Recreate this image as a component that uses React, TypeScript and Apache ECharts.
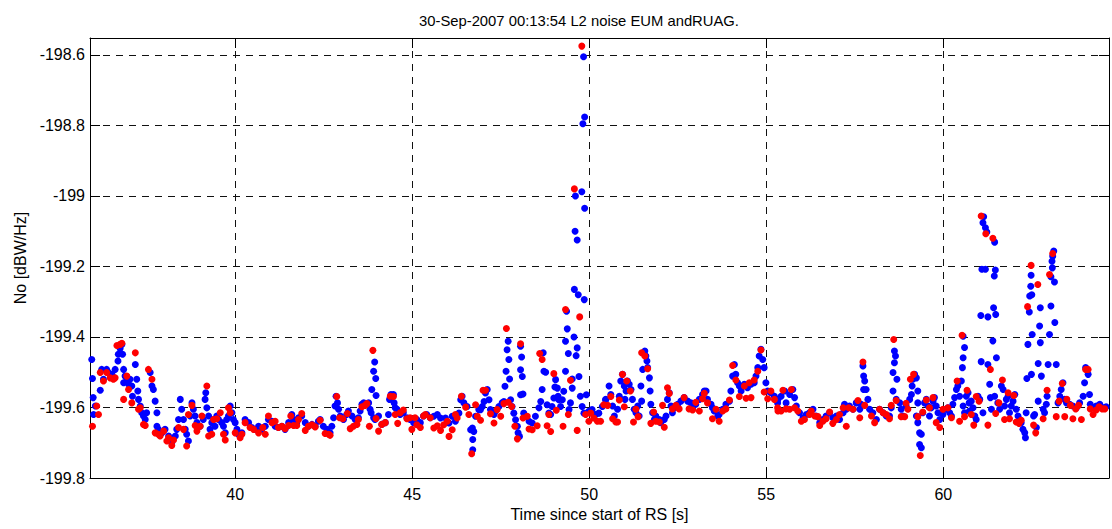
import React, { useEffect, useRef } from "react";
import * as echarts from "echarts";

const titleText = "30-Sep-2007 00:13:54 L2 noise EUM andRUAG.";
const xName = "Time since start of RS [s]";
const yName = "No [dBW/Hz]";
const xTicks = [40, 45, 50, 55, 60];
const yTicks = [-199.8, -199.6, -199.4, -199.2, -199, -198.8, -198.6];
const xRange = [35.9, 64.68];
const yRange = [-199.8, -198.552];

// EUM (blue) samples: [time s, noise dBW/Hz]
const blueSeg1: [number, number][] = [
  [35.95, -199.464], [35.97, -199.518], [35.99, -199.572], [36.0, -199.62], [36.05, -199.596],
  [36.19, -199.551], [36.23, -199.492], [36.28, -199.52], [36.37, -199.492], [36.42, -199.501],
  [36.52, -199.506], [36.61, -199.492], [36.69, -199.468], [36.7, -199.449], [36.75, -199.433],
  [36.8, -199.421], [36.82, -199.449], [36.85, -199.492], [36.85, -199.53], [36.89, -199.511],
  [36.94, -199.525], [36.99, -199.534], [37.03, -199.52], [37.08, -199.539], [37.1, -199.568],
  [37.18, -199.478], [37.22, -199.52], [37.25, -199.553], [37.27, -199.577], [37.32, -199.596],
  [37.36, -199.615], [37.41, -199.624], [37.46, -199.634], [37.5, -199.615], [37.6, -199.501],
  [37.65, -199.539], [37.69, -199.549], [37.74, -199.582], [37.79, -199.615], [37.79, -199.653],
  [37.83, -199.662], [37.93, -199.672], [38.02, -199.662], [38.12, -199.681], [38.21, -199.7],
  [38.31, -199.681], [38.35, -199.662], [38.4, -199.634], [38.45, -199.577], [38.49, -199.605],
  [38.54, -199.634], [38.59, -199.662], [38.63, -199.676], [38.68, -199.695], [38.73, -199.624],
  [38.78, -199.587], [38.82, -199.605], [38.87, -199.624], [38.92, -199.643], [39.01, -199.653],
  [39.1, -199.634], [39.15, -199.577], [39.17, -199.558], [39.2, -199.601], [39.25, -199.624],
  [39.29, -199.662], [39.34, -199.643], [39.39, -199.634], [39.43, -199.653], [39.48, -199.624],
  [39.53, -199.634], [39.62, -199.643], [39.67, -199.653], [39.72, -199.672], [39.76, -199.634],
  [39.81, -199.624], [39.86, -199.596], [39.91, -199.615], [39.95, -199.634], [40.0, -199.643],
  [40.05, -199.662], [40.09, -199.676], [40.19, -199.672], [40.28, -199.634], [40.38, -199.643],
  [40.47, -199.657], [40.57, -199.662], [40.66, -199.653],
];
const blueSeg2: [number, number][] = [
  [40.75, -199.662], [40.85, -199.653], [40.94, -199.634], [41.04, -199.639], [41.13, -199.653],
  [41.22, -199.657], [41.32, -199.653], [41.41, -199.662], [41.51, -199.643], [41.6, -199.62],
  [41.65, -199.634], [41.74, -199.643], [41.79, -199.629], [41.88, -199.624], [41.98, -199.643],
  [42.07, -199.653], [42.17, -199.648], [42.26, -199.653], [42.35, -199.639], [42.4, -199.634],
  [42.49, -199.653], [42.59, -199.662], [42.68, -199.672], [42.73, -199.653], [42.78, -199.629],
  [42.82, -199.596], [42.85, -199.568], [42.89, -199.587], [42.92, -199.605], [42.97, -199.624],
  [43.06, -199.634], [43.15, -199.62], [43.2, -199.61], [43.3, -199.624], [43.39, -199.634],
  [43.48, -199.629], [43.53, -199.61], [43.58, -199.591], [43.63, -199.587], [43.72, -199.591],
  [43.77, -199.587], [43.81, -199.605], [43.84, -199.615], [43.86, -199.549], [43.91, -199.497],
  [43.94, -199.471], [43.97, -199.518], [43.98, -199.566], [43.91, -199.629], [43.95, -199.634],
  [44.05, -199.624], [44.14, -199.648], [44.24, -199.643], [44.33, -199.62], [44.36, -199.577],
  [44.4, -199.563], [44.43, -199.568], [44.47, -199.563], [44.49, -199.587], [44.52, -199.601],
  [44.57, -199.605], [44.66, -199.62], [44.75, -199.615], [44.85, -199.629], [44.94, -199.634],
  [45.04, -199.643], [45.13, -199.634], [45.23, -199.643], [45.32, -199.624], [45.41, -199.62],
  [45.51, -199.629],
];
const blueSeg3: [number, number][] = [
  [45.61, -199.625], [45.71, -199.62], [45.8, -199.63], [45.94, -199.63], [46.04, -199.644],
  [46.13, -199.625], [46.22, -199.639], [46.32, -199.616], [46.37, -199.578], [46.41, -199.568],
  [46.46, -199.587], [46.55, -199.597], [46.65, -199.663], [46.7, -199.658], [46.71, -199.691],
  [46.71, -199.72], [46.74, -199.668], [46.79, -199.625], [46.88, -199.606], [46.93, -199.606],
  [46.98, -199.597], [47.03, -199.583], [47.07, -199.559], [47.12, -199.549], [47.17, -199.578],
  [47.21, -199.606], [47.26, -199.616], [47.31, -199.62], [47.35, -199.611], [47.45, -199.597],
  [47.54, -199.587], [47.59, -199.583], [47.62, -199.54], [47.65, -199.497], [47.68, -199.436],
  [47.71, -199.412], [47.73, -199.464], [47.75, -199.519], [47.78, -199.578], [47.82, -199.597],
  [47.87, -199.616], [47.92, -199.635], [47.97, -199.653], [47.99, -199.672], [48.03, -199.682],
  [48.06, -199.426], [48.09, -199.457], [48.06, -199.493], [48.11, -199.512], [48.06, -199.564],
  [48.13, -199.562], [48.15, -199.616], [48.2, -199.625], [48.3, -199.639], [48.39, -199.644],
  [48.48, -199.625], [48.58, -199.601], [48.63, -199.583], [48.67, -199.549], [48.72, -199.497],
  [48.7, -199.445], [48.77, -199.5], [48.81, -199.592], [48.86, -199.616], [48.91, -199.62],
  [48.95, -199.597], [49.0, -199.573], [49.05, -199.521], [49.03, -199.542], [49.1, -199.545],
  [49.12, -199.568], [49.14, -199.578], [49.19, -199.597], [49.24, -199.578], [49.28, -199.554],
  [49.33, -199.497], [49.33, -199.412], [49.36, -199.327], [49.38, -199.377], [49.41, -199.447],
  [49.43, -199.606], [49.47, -199.587], [49.52, -199.545], [49.52, -199.519], [49.57, -199.4],
  [49.63, -199.453], [49.66, -199.431], [49.71, -199.512], [49.75, -199.568], [49.8, -199.597],
  [49.85, -199.616], [49.92, -199.564], [49.99, -199.611], [50.08, -199.606], [50.18, -199.62],
  [50.27, -199.616], [50.37, -199.597],
  [49.84, -198.605], [49.87, -198.776], [49.82, -198.795], [49.61, -199.0], [49.79, -198.988],
  [49.87, -199.035], [49.6, -199.1], [49.66, -199.125], [49.58, -199.265], [49.69, -199.28],
  [49.86, -199.294],
];
const blueSeg4: [number, number][] = [
  [50.46, -199.578], [50.47, -199.577], [50.56, -199.539], [50.61, -199.563], [50.66, -199.596],
  [50.71, -199.624], [50.8, -199.605], [50.85, -199.568], [50.89, -199.525], [50.94, -199.506],
  [50.99, -199.539], [51.01, -199.577], [51.04, -199.553], [51.08, -199.525], [51.13, -199.534],
  [51.18, -199.549], [51.22, -199.577], [51.27, -199.605], [51.32, -199.615], [51.37, -199.596],
  [51.41, -199.624], [51.46, -199.539], [51.48, -199.582], [51.51, -199.492], [51.54, -199.445],
  [51.57, -199.44], [51.6, -199.454], [51.63, -199.468], [51.65, -199.487], [51.7, -199.516],
  [51.72, -199.553], [51.74, -199.591], [51.79, -199.615], [51.84, -199.634], [51.88, -199.624],
  [51.98, -199.634], [52.02, -199.643], [52.12, -199.634], [52.17, -199.624], [52.21, -199.577],
  [52.26, -199.558], [52.31, -199.596], [52.35, -199.615], [52.4, -199.601], [52.5, -199.591],
  [52.59, -199.582], [52.68, -199.572], [52.78, -199.582], [52.87, -199.587], [52.92, -199.601],
  [53.01, -199.591], [53.11, -199.577], [53.2, -199.563], [53.25, -199.553], [53.3, -199.553],
  [53.34, -199.577], [53.44, -199.591], [53.48, -199.601], [53.53, -199.61], [53.63, -199.624],
  [53.67, -199.62], [53.77, -199.605], [53.86, -199.591], [53.96, -199.582], [54.0, -199.553],
  [54.05, -199.511], [54.1, -199.478], [54.14, -199.506], [54.19, -199.53], [54.24, -199.539],
  [54.29, -199.553], [54.38, -199.534], [54.47, -199.544], [54.57, -199.534], [54.66, -199.53],
  [54.71, -199.511], [54.76, -199.487], [54.8, -199.454], [54.85, -199.435], [54.9, -199.464],
  [54.94, -199.487], [54.99, -199.53], [55.04, -199.553], [55.13, -199.558], [55.23, -199.568],
];
const blueSeg5: [number, number][] = [
  [55.32, -199.587], [55.33, -199.577], [55.42, -199.568], [55.52, -199.553], [55.56, -199.587],
  [55.66, -199.563], [55.75, -199.549], [55.8, -199.572], [55.85, -199.596], [55.94, -199.615],
  [56.04, -199.629], [56.13, -199.62], [56.22, -199.615], [56.32, -199.605], [56.41, -199.624],
  [56.51, -199.643], [56.6, -199.634], [56.69, -199.624], [56.79, -199.615], [56.88, -199.629],
  [56.98, -199.624], [57.07, -199.634], [57.17, -199.615], [57.21, -199.591], [57.26, -199.605],
  [57.35, -199.596], [57.45, -199.605], [57.54, -199.587], [57.64, -199.605], [57.68, -199.591],
  [57.73, -199.482], [57.75, -199.511], [57.78, -199.525], [57.75, -199.549], [57.82, -199.549],
  [57.87, -199.577], [57.92, -199.605], [58.01, -199.615], [58.11, -199.634], [58.2, -199.605],
  [58.3, -199.615], [58.39, -199.624], [58.48, -199.624], [58.53, -199.601], [58.58, -199.553],
  [58.58, -199.501], [58.62, -199.473], [58.65, -199.454], [58.62, -199.44], [58.69, -199.52],
  [58.67, -199.577], [58.77, -199.587], [58.81, -199.605], [58.86, -199.624], [58.95, -199.596],
  [59.05, -199.577], [59.1, -199.563], [59.12, -199.539], [59.14, -199.52], [59.19, -199.506],
  [59.24, -199.516], [59.28, -199.553], [59.28, -199.587], [59.24, -199.624], [59.28, -199.643],
  [59.33, -199.672], [59.38, -199.676], [59.33, -199.705], [59.38, -199.714], [59.42, -199.615],
  [59.47, -199.587], [59.52, -199.577], [59.57, -199.596], [59.61, -199.624], [59.66, -199.601],
  [59.71, -199.582], [59.75, -199.572], [59.8, -199.596], [59.85, -199.615], [59.9, -199.634],
  [59.99, -199.62], [60.08, -199.605],
];
const blueSeg6: [number, number][] = [
  [60.13, -199.601], [60.18, -199.615], [60.23, -199.624], [60.27, -199.591], [60.32, -199.572],
  [60.37, -199.549], [60.41, -199.539], [60.46, -199.568], [60.51, -199.525], [60.54, -199.487],
  [60.56, -199.459], [60.6, -199.43], [60.56, -199.398], [60.56, -199.596], [60.6, -199.615],
  [60.65, -199.568], [60.7, -199.558], [60.73, -199.587], [60.74, -199.61], [60.79, -199.582],
  [60.84, -199.601], [60.89, -199.624], [60.93, -199.634], [60.98, -199.568], [61.03, -199.577],
  [61.07, -199.47], [61.12, -199.615], [61.26, -199.478], [61.31, -199.534], [61.33, -199.572],
  [61.36, -199.605], [61.4, -199.411], [61.45, -199.568], [61.5, -199.459], [61.54, -199.587],
  [61.59, -199.605], [61.64, -199.539], [61.69, -199.549], [61.73, -199.596], [61.78, -199.577],
  [61.83, -199.568], [61.87, -199.615], [61.92, -199.596], [61.97, -199.582], [62.02, -199.563],
  [62.06, -199.605], [62.11, -199.624], [62.16, -199.634], [62.2, -199.643], [62.25, -199.662],
  [62.3, -199.672], [62.32, -199.686], [62.34, -199.615], [62.36, -199.518], [62.39, -199.421],
  [62.49, -199.506], [62.51, -199.393], [62.55, -199.624], [62.58, -199.62], [62.63, -199.657],
  [62.68, -199.475], [62.68, -199.582], [62.72, -199.369], [62.74, -199.416], [62.77, -199.511],
  [62.82, -199.605], [62.86, -199.615], [62.91, -199.591], [62.93, -199.568], [62.96, -199.478],
  [63.0, -199.393], [63.15, -199.359], [63.19, -199.478], [63.24, -199.587], [63.29, -199.568],
  [63.33, -199.549], [63.38, -199.53], [63.43, -199.577], [63.48, -199.587], [63.57, -199.591],
  [63.66, -199.596], [63.76, -199.601], [63.85, -199.587], [63.95, -199.568], [63.99, -199.53],
  [64.02, -199.487], [64.09, -199.506], [64.13, -199.563], [64.15, -199.591], [64.23, -199.601],
  [64.32, -199.596], [64.42, -199.591], [64.51, -199.601], [64.6, -199.598],
  [61.14, -199.059], [61.12, -199.076], [61.19, -199.09], [61.23, -199.102], [61.45, -199.131],
  [61.09, -199.208], [61.19, -199.208], [61.47, -199.21], [61.44, -199.227], [61.42, -199.317],
  [61.06, -199.339], [61.26, -199.343], [61.48, -199.336], [63.12, -199.156], [63.09, -199.171],
  [63.07, -199.185], [63.08, -199.204], [63.04, -199.229], [63.14, -199.244], [63.04, -199.312],
  [62.74, -199.317], [62.48, -199.225], [62.47, -199.256], [62.44, -199.284], [62.5, -199.28],
  [62.43, -199.329],
];

// RUAG (red) samples: [time s, noise dBW/Hz]
const redSeg1: [number, number][] = [
  [35.97, -199.653], [36.09, -199.596], [36.14, -199.62], [36.19, -199.501], [36.28, -199.525],
  [36.37, -199.501], [36.47, -199.516], [36.56, -199.52], [36.61, -199.516], [36.66, -199.424],
  [36.75, -199.421], [36.8, -199.418], [36.85, -199.577], [36.94, -199.511], [36.99, -199.549],
  [37.08, -199.587], [37.18, -199.445], [37.27, -199.605], [37.32, -199.601], [37.41, -199.648],
  [37.46, -199.651], [37.55, -199.492], [37.65, -199.52], [37.74, -199.672], [37.83, -199.676],
  [37.88, -199.681], [37.98, -199.667], [38.07, -199.695], [38.12, -199.686], [38.21, -199.708],
  [38.26, -199.692], [38.4, -199.657], [38.54, -199.662], [38.63, -199.709], [38.68, -199.62],
  [38.78, -199.594], [38.87, -199.651], [38.92, -199.667], [39.01, -199.653], [39.06, -199.624],
  [39.2, -199.539], [39.25, -199.681], [39.34, -199.676], [39.39, -199.634], [39.48, -199.632],
  [39.58, -199.615], [39.67, -199.676], [39.72, -199.692], [39.81, -199.601], [39.86, -199.615],
  [40.0, -199.672], [40.14, -199.686], [40.19, -199.676], [40.28, -199.643], [40.42, -199.657],
  [40.52, -199.662], [40.66, -199.672],
];
const redSeg2: [number, number][] = [
  [40.78, -199.657], [40.85, -199.676], [40.94, -199.624], [41.04, -199.643], [41.13, -199.639],
  [41.22, -199.657], [41.32, -199.653], [41.41, -199.66], [41.51, -199.651], [41.57, -199.624],
  [41.65, -199.651], [41.74, -199.651], [41.79, -199.634], [41.88, -199.617], [41.98, -199.665],
  [42.07, -199.653], [42.17, -199.649], [42.26, -199.655], [42.4, -199.636], [42.54, -199.674],
  [42.64, -199.676], [42.68, -199.679], [42.87, -199.569], [42.95, -199.629], [43.04, -199.632],
  [43.17, -199.617], [43.25, -199.66], [43.34, -199.653], [43.44, -199.648], [43.48, -199.634],
  [43.58, -199.598], [43.67, -199.594], [43.72, -199.589], [43.79, -199.653], [43.89, -199.438],
  [43.98, -199.631], [44.05, -199.667], [44.14, -199.648], [44.24, -199.643], [44.38, -199.568],
  [44.47, -199.569], [44.52, -199.62], [44.59, -199.645], [44.66, -199.615], [44.75, -199.607],
  [44.85, -199.632], [44.94, -199.629], [44.99, -199.662], [45.08, -199.629], [45.13, -199.649],
  [45.23, -199.657], [45.32, -199.624], [45.37, -199.62], [45.51, -199.629],
];
const redSeg3: [number, number][] = [
  [45.61, -199.658], [45.71, -199.652], [45.8, -199.665], [45.89, -199.649], [45.99, -199.639],
  [46.04, -199.682], [46.13, -199.663], [46.22, -199.62], [46.27, -199.63], [46.39, -199.568],
  [46.51, -199.599], [46.6, -199.62], [46.68, -199.731], [46.79, -199.592], [46.84, -199.625],
  [46.93, -199.636], [47.0, -199.551], [47.07, -199.551], [47.21, -199.618], [47.31, -199.644],
  [47.4, -199.606], [47.5, -199.625], [47.59, -199.589], [47.66, -199.376], [47.71, -199.585],
  [47.81, -199.597], [47.9, -199.653], [47.97, -199.689], [48.06, -199.419], [48.13, -199.63],
  [48.25, -199.625], [48.3, -199.661], [48.39, -199.663], [48.53, -199.652], [48.6, -199.447],
  [48.67, -199.464], [48.81, -199.652], [48.86, -199.62], [48.91, -199.668], [49.0, -199.504],
  [49.07, -199.608], [49.26, -199.653], [49.33, -199.322], [49.41, -199.62], [49.47, -199.523],
  [49.66, -199.665], [49.73, -199.343], [49.9, -199.62], [49.99, -199.639], [50.04, -199.616],
  [50.13, -199.63], [50.23, -199.639], [50.32, -199.639], [50.41, -199.592],
  [49.79, -198.575], [49.58, -198.98],
];
const redSeg4: [number, number][] = [
  [50.52, -199.594], [50.61, -199.569], [50.66, -199.632], [50.75, -199.641], [50.8, -199.641],
  [50.85, -199.579], [50.94, -199.506], [50.99, -199.598], [51.06, -199.525], [51.16, -199.553],
  [51.25, -199.641], [51.32, -199.605], [51.38, -199.626], [51.48, -199.445], [51.57, -199.454],
  [51.65, -199.49], [51.74, -199.645], [51.82, -199.613], [51.88, -199.639], [51.98, -199.641],
  [52.07, -199.594], [52.12, -199.656], [52.21, -199.544], [52.26, -199.56], [52.35, -199.604],
  [52.45, -199.594], [52.54, -199.604], [52.68, -199.572], [52.82, -199.604], [52.92, -199.607],
  [53.01, -199.585], [53.11, -199.61], [53.2, -199.575], [53.25, -199.56], [53.34, -199.587],
  [53.48, -199.632], [53.58, -199.605], [53.67, -199.639], [53.77, -199.61], [53.86, -199.604],
  [53.96, -199.579], [54.05, -199.481], [54.14, -199.522], [54.24, -199.569], [54.38, -199.539],
  [54.43, -199.574], [54.52, -199.53], [54.57, -199.572], [54.66, -199.522], [54.76, -199.497],
  [54.85, -199.437], [54.94, -199.556], [55.04, -199.575], [55.13, -199.553], [55.23, -199.577],
  [55.32, -199.601],
];
const redSeg5: [number, number][] = [
  [55.33, -199.61], [55.42, -199.61], [55.47, -199.551], [55.56, -199.604], [55.66, -199.605],
  [55.71, -199.549], [55.8, -199.601], [55.89, -199.61], [55.99, -199.639], [56.08, -199.634],
  [56.22, -199.62], [56.27, -199.61], [56.37, -199.624], [56.46, -199.626], [56.51, -199.651],
  [56.6, -199.639], [56.69, -199.632], [56.79, -199.613], [56.88, -199.645], [56.98, -199.634],
  [57.07, -199.62], [57.17, -199.601], [57.26, -199.653], [57.33, -199.601], [57.45, -199.605],
  [57.59, -199.58], [57.64, -199.629], [57.73, -199.471], [57.78, -199.594], [57.97, -199.624],
  [58.06, -199.643], [58.2, -199.605], [58.3, -199.615], [58.39, -199.62], [58.48, -199.632],
  [58.53, -199.594], [58.6, -199.407], [58.67, -199.58], [58.81, -199.626], [58.91, -199.626],
  [58.95, -199.588], [59.0, -199.605], [59.07, -199.52], [59.16, -199.506], [59.28, -199.626],
  [59.35, -199.736], [59.42, -199.613], [59.52, -199.579], [59.61, -199.601], [59.71, -199.572],
  [59.8, -199.643], [59.9, -199.657], [59.99, -199.605],
];
const redSeg6: [number, number][] = [
  [60.13, -199.601], [60.23, -199.629], [60.39, -199.525], [60.46, -199.639], [60.53, -199.395],
  [60.6, -199.626], [60.67, -199.551], [60.79, -199.62], [60.86, -199.65], [60.93, -199.569],
  [61.01, -199.582], [61.07, -199.057], [61.2, -199.107], [61.26, -199.65], [61.33, -199.492],
  [61.4, -199.12], [61.48, -199.617], [61.57, -199.587], [61.67, -199.522], [61.73, -199.634],
  [61.83, -199.558], [61.87, -199.632], [61.99, -199.566], [62.06, -199.641], [62.14, -199.645],
  [62.2, -199.636], [62.38, -199.314], [62.48, -199.197], [62.55, -199.65], [62.61, -199.672],
  [62.67, -199.251], [62.82, -199.632], [62.93, -199.551], [63.0, -199.223], [63.09, -199.163],
  [63.19, -199.626], [63.27, -199.582], [63.36, -199.532], [63.43, -199.626], [63.49, -199.577],
  [63.59, -199.594], [63.66, -199.632], [63.74, -199.604], [63.82, -199.594], [63.9, -199.634],
  [64.02, -199.492], [64.09, -199.492], [64.15, -199.604], [64.23, -199.62], [64.32, -199.607],
  [64.4, -199.598], [64.49, -199.604], [64.56, -199.604],
];

const blueData = [...blueSeg1, ...blueSeg2, ...blueSeg3, ...blueSeg4, ...blueSeg5, ...blueSeg6];
const redData = [...redSeg1, ...redSeg2, ...redSeg3, ...redSeg4, ...redSeg5, ...redSeg6];

const FONT = "'Liberation Sans', Arial, Helvetica, sans-serif";

export default function App() {
  const ref = useRef<HTMLDivElement>(null);
  useEffect(() => {
    if (!ref.current) return;
    const chart = echarts.init(ref.current, undefined, { renderer: "svg" });
    const frameAxis = {
      axisLine: { show: true, onZero: false, lineStyle: { color: "#000", width: 1 } },
      axisLabel: { show: false },
      splitLine: { show: false },
    };
    const gridLine = { show: true, lineStyle: { color: "#111", type: [7, 6], width: 1 } };
    chart.setOption({
      animation: false,
      backgroundColor: "#fff",
      title: {
        text: titleText,
        left: 414,
        top: 8,
        textStyle: { fontFamily: FONT, fontSize: 14.8, fontWeight: "normal", color: "#000" },
      },
      grid: { left: 90, top: 38, right: 3, bottom: 51, containLabel: false },
      xAxis: [
        {
          type: "value",
          min: xRange[0],
          max: xRange[1],
          position: "bottom",
          name: xName,
          nameLocation: "middle",
          nameGap: 28,
          nameTextStyle: { fontFamily: FONT, fontSize: 16, color: "#000" },
          axisLine: { show: true, onZero: false, lineStyle: { color: "#000", width: 1 } },
          axisTick: { show: true, inside: true, length: 10, customValues: xTicks, lineStyle: { color: "#000" } },
          axisLabel: { show: true, customValues: xTicks, color: "#000", fontFamily: FONT, fontSize: 16, margin: 8 },
          splitLine: gridLine,
        },
        {
          type: "value",
          min: xRange[0],
          max: xRange[1],
          position: "top",
          ...frameAxis,
          axisTick: { show: true, inside: true, length: 10, customValues: xTicks, lineStyle: { color: "#000" } },
        },
      ],
      yAxis: [
        {
          type: "value",
          min: yRange[0],
          max: yRange[1],
          position: "left",
          name: yName,
          nameLocation: "middle",
          nameGap: 62,
          nameTextStyle: { fontFamily: FONT, fontSize: 16, color: "#000" },
          axisLine: { show: true, onZero: false, lineStyle: { color: "#000", width: 1 } },
          axisTick: { show: true, inside: true, length: 10, customValues: yTicks, lineStyle: { color: "#000" } },
          axisLabel: { show: true, customValues: yTicks, color: "#000", fontFamily: FONT, fontSize: 16, margin: 5 },
          splitLine: gridLine,
        },
        {
          type: "value",
          min: yRange[0],
          max: yRange[1],
          position: "right",
          ...frameAxis,
          axisTick: { show: true, inside: true, length: 10, customValues: yTicks, lineStyle: { color: "#000" } },
        },
      ],
      series: [
        {
          name: "EUM",
          type: "scatter",
          xAxisIndex: 0,
          yAxisIndex: 0,
          data: blueData,
          symbol: "circle",
          symbolSize: 7,
          itemStyle: { color: "#0000ff", opacity: 1 },
          emphasis: { disabled: true },
        },
        {
          name: "RUAG",
          type: "scatter",
          xAxisIndex: 0,
          yAxisIndex: 0,
          data: redData,
          symbol: "circle",
          symbolSize: 7,
          itemStyle: { color: "#ff0000", opacity: 1 },
          emphasis: { disabled: true },
        },
      ],
    });
    return () => chart.dispose();
  }, []);
  return (
    <div
      ref={ref}
      style={{ position: "fixed", left: 0, top: 0, width: 1112, height: 529, background: "#fff" }}
    />
  );
}
